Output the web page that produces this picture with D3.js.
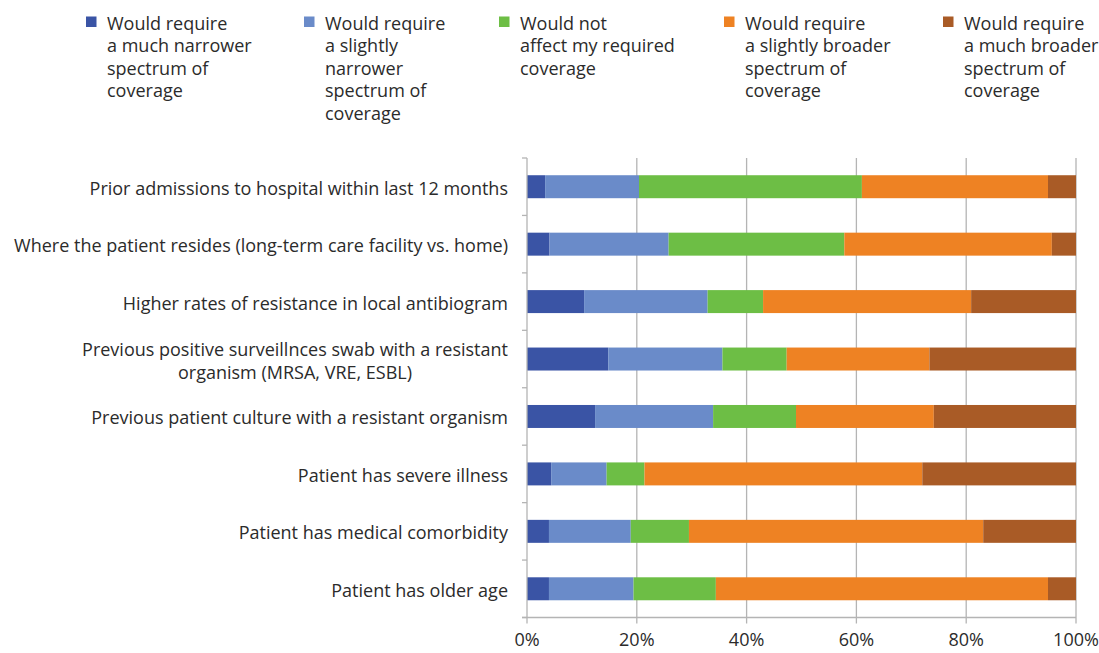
<!DOCTYPE html>
<html>
<head>
<meta charset="utf-8">
<script src="https://cdn.jsdelivr.net/npm/d3@7"></script>
<style>
  html, body { margin: 0; padding: 0; background: #fff; }
  svg { display: block; font-family: "Open Sans", "Noto Sans", sans-serif; }
</style>
</head>
<body>
<svg id="chart" width="1099" height="653"></svg>
<script>
// Factors, top to bottom
const categories = [
  ["Prior admissions to hospital within last 12 months"],
  ["Where the patient resides (long-term care facility vs. home)"],
  ["Higher rates of resistance in local antibiogram"],
  ["Previous positive surveillnces swab with a resistant", "organism (MRSA, VRE, ESBL)"],
  ["Previous patient culture with a resistant organism"],
  ["Patient has severe illness"],
  ["Patient has medical comorbidity"],
  ["Patient has older age"]
];

// Percentage of respondents per response, same order as categories
const muchNarrower     = [3.3, 4.1, 10.4, 14.8, 12.4, 4.4, 4.0, 4.0];
const slightlyNarrower = [17.1, 21.7, 22.5, 20.8, 21.5, 10.1, 14.9, 15.4];
const noEffect         = [40.6, 32.0, 10.1, 11.7, 15.1, 6.9, 10.6, 15.0];
const slightlyBroader  = [33.9, 37.8, 37.9, 26.0, 25.1, 50.6, 53.6, 60.5];
const muchBroader      = [5.1, 4.4, 19.1, 26.7, 25.9, 28.0, 16.9, 5.1];

const seriesNames = [
  ["Would require", "a much narrower", "spectrum of", "coverage"],
  ["Would require", "a slightly", "narrower", "spectrum of", "coverage"],
  ["Would not", "affect my required", "coverage"],
  ["Would require", "a slightly broader", "spectrum of", "coverage"],
  ["Would require", "a much broader", "spectrum of", "coverage"]
];
const colors = ["#3a54a5", "#6a8bc9", "#6dbe45", "#ee8223", "#a95b26"];

const xTicks = [0, 20, 40, 60, 80, 100];
const xTickLabels = ["0%", "20%", "40%", "60%", "80%", "100%"];

const keys = ["muchNarrower", "slightlyNarrower", "noEffect", "slightlyBroader", "muchBroader"];
const valueArrays = [muchNarrower, slightlyNarrower, noEffect, slightlyBroader, muchBroader];
const rows = categories.map((c, i) => {
  const r = { id: i };
  keys.forEach((k, j) => r[k] = valueArrays[j][i]);
  return r;
});

const svg = d3.select("#chart");
const plotLeft = 527, plotRight = 1076, plotTop = 158, plotBottom = 617.5;
const textColor = "#2b2b2b";
const gridColor = "#b4b4b4";
const fontSize = 18;

const x = d3.scaleLinear().domain([0, 100]).range([plotLeft, plotRight]);
const y = d3.scaleBand().domain(rows.map(r => r.id)).range([plotTop, plotBottom]).paddingInner(0.6).paddingOuter(0.3);
const yOuter = d3.scaleBand().domain(rows.map(r => r.id)).range([plotTop, plotBottom]);

// Vertical gridlines (and their tick marks below the axis)
svg.append("g").selectAll("line")
  .data(xTicks.slice(1))
  .join("line")
  .attr("x1", d => x(d)).attr("x2", d => x(d))
  .attr("y1", plotTop).attr("y2", plotBottom + 6)
  .attr("stroke", gridColor).attr("stroke-width", 1.3);

// Stacked bars
const stack = d3.stack().keys(keys)(rows);
svg.append("g").selectAll("g")
  .data(stack)
  .join("g")
  .attr("fill", (d, i) => colors[i])
  .selectAll("rect")
  .data(d => d)
  .join("rect")
  .attr("x", d => x(d[0]))
  .attr("width", d => x(d[1]) - x(d[0]))
  .attr("y", d => y(d.data.id))
  .attr("height", y.bandwidth());

// Axis lines with ticks
const axisG = svg.append("g").attr("stroke", gridColor).attr("stroke-width", 1.3);
axisG.append("line")
  .attr("x1", plotLeft).attr("x2", plotLeft)
  .attr("y1", plotTop).attr("y2", plotBottom + 6);
axisG.append("line")
  .attr("x1", plotLeft - 5).attr("x2", plotRight)
  .attr("y1", plotBottom).attr("y2", plotBottom);
const boundaries = rows.map(r => yOuter(r.id)).concat([plotBottom]);
axisG.selectAll("line.tick")
  .data(boundaries)
  .join("line")
  .attr("class", "tick")
  .attr("x1", plotLeft - 5).attr("x2", plotLeft)
  .attr("y1", d => d).attr("y2", d => d);

// Category labels
const labelX = 508;
const labelG = svg.append("g").attr("fill", textColor).attr("font-size", fontSize);
rows.forEach((r, i) => {
  const lines = categories[i];
  const cy = y(r.id) + y.bandwidth() / 2;
  if (lines.length === 1) {
    labelG.append("text")
      .attr("x", labelX).attr("y", cy + 8)
      .attr("text-anchor", "end").text(lines[0]);
  } else {
    const t1 = labelG.append("text")
      .attr("x", labelX).attr("y", cy - 3)
      .attr("text-anchor", "end").text(lines[0]);
    const w = t1.node().getComputedTextLength();
    labelG.append("text")
      .attr("x", labelX - w / 2).attr("y", cy + 19.5)
      .attr("text-anchor", "middle").text(lines[1]);
  }
});

// Percentage axis labels
svg.append("g").attr("fill", textColor).attr("font-size", fontSize)
  .selectAll("text")
  .data(xTicks)
  .join("text")
  .attr("x", d => x(d)).attr("y", 646)
  .attr("text-anchor", "middle")
  .text((d, i) => xTickLabels[i]);

// Legend
const legendX = [86, 304, 499, 724, 943];
const legend = svg.append("g").attr("font-size", fontSize).attr("fill", textColor);
seriesNames.forEach((lines, i) => {
  const g = legend.append("g").attr("transform", `translate(${legendX[i]},0)`);
  g.append("rect").attr("x", 0).attr("y", 16.5).attr("width", 10.5).attr("height", 10.5).attr("fill", colors[i]);
  lines.forEach((ln, j) => {
    g.append("text").attr("x", 21).attr("y", 29.5 + j * 22.6).text(ln);
  });
});
</script>
</body>
</html>
